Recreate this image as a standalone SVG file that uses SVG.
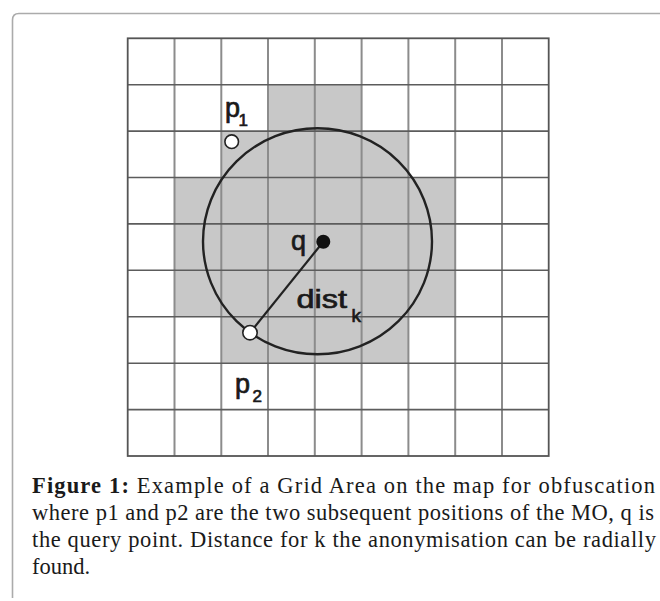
<svg xmlns="http://www.w3.org/2000/svg" width="660" height="601" viewBox="0 0 660 601">
<style>
.hl{stroke:#5c5c5c;stroke-width:1.6}
.vl{stroke:#8c8c8c;stroke-width:2}
.lbl{font-family:"Liberation Sans",Arial,sans-serif;fill:#1a1a1a;stroke:#1a1a1a;stroke-width:0.7}
.cap{font-family:"Liberation Serif","Times New Roman",serif;font-size:22.5px;fill:#1a1a1a}
.pt{fill:#fff;stroke:#222;stroke-width:1.6}
</style>
<rect width="660" height="601" fill="#fff"/>
<path d="M12.5,598 V20 Q12.5,13.5 19,13.5 H660" fill="none" stroke="#ababab" stroke-width="1.6"/>
<g id="grid">
<polygon points="268,84.7 361.6,84.7 361.6,131.1 408.4,131.1 408.4,177.5 455.2,177.5 455.2,316.8 408.4,316.8 408.4,363.2 221.3,363.2 221.3,316.8 174.5,316.8 174.5,177.5 221.3,177.5 221.3,131.1 268,131.1" fill="#c8c8c8"/>
<g class="vl">
<line x1="174.5" y1="38.3" x2="174.5" y2="456"/>
<line x1="221.3" y1="38.3" x2="221.3" y2="456"/>
<line x1="268" y1="38.3" x2="268" y2="456"/>
<line x1="314.8" y1="38.3" x2="314.8" y2="456"/>
<line x1="361.6" y1="38.3" x2="361.6" y2="456"/>
<line x1="408.4" y1="38.3" x2="408.4" y2="456"/>
<line x1="455.2" y1="38.3" x2="455.2" y2="456"/>
<line x1="502" y1="38.3" x2="502" y2="456"/>
</g>
<g class="hl">
<line x1="127.7" y1="84.7" x2="548.7" y2="84.7"/>
<line x1="127.7" y1="131.1" x2="548.7" y2="131.1"/>
<line x1="127.7" y1="177.5" x2="548.7" y2="177.5"/>
<line x1="127.7" y1="223.9" x2="548.7" y2="223.9"/>
<line x1="127.7" y1="270.3" x2="548.7" y2="270.3"/>
<line x1="127.7" y1="316.8" x2="548.7" y2="316.8"/>
<line x1="127.7" y1="363.2" x2="548.7" y2="363.2"/>
<line x1="127.7" y1="409.6" x2="548.7" y2="409.6"/>
</g>
<rect x="127.7" y="38.3" width="421" height="417.7" fill="none" stroke="#555" stroke-width="1.8"/>
</g>
<g id="range">
<ellipse cx="317.5" cy="241.3" rx="114.5" ry="113" fill="none" stroke="#222" stroke-width="2.4"/>
</g>
<g id="connectors">
<line x1="323.3" y1="241.7" x2="250" y2="332.7" stroke="#222" stroke-width="2.2"/>
</g>
<g id="q">
<circle cx="323.3" cy="241.7" r="7" fill="#111"/>
<text class="lbl" x="291" y="250" font-size="27">q</text>
</g>
<g id="p1">
<circle class="pt" cx="231.7" cy="141.7" r="6.8"/>
<text class="lbl" x="225" y="117" font-size="27">p</text>
<text class="lbl" x="238.5" y="126" font-size="17">1</text>
</g>
<g id="p2">
<circle class="pt" cx="250" cy="332.7" r="7.2"/>
<text class="lbl" x="235" y="392.5" font-size="27">p</text>
<text class="lbl" x="252.5" y="401.5" font-size="17">2</text>
</g>
<g id="dist">
<text class="lbl" x="296.5" y="308" font-size="26" textLength="50.5" lengthAdjust="spacingAndGlyphs">dist</text>
<text class="lbl" x="351.5" y="321.5" font-size="19">k</text>
</g>
<g id="caption" class="cap">
<text x="32" y="493" textLength="623" lengthAdjust="spacing"><tspan font-weight="bold">Figure 1:</tspan> Example of a Grid Area on the map for obfuscation</text>
<text x="32" y="520" textLength="622" lengthAdjust="spacing">where p1 and p2 are the two subsequent positions of the MO, q is</text>
<text x="32" y="547" textLength="624" lengthAdjust="spacing">the query point. Distance for k the anonymisation can be radially</text>
<text x="32" y="574">found.</text>
</g>
</svg>
